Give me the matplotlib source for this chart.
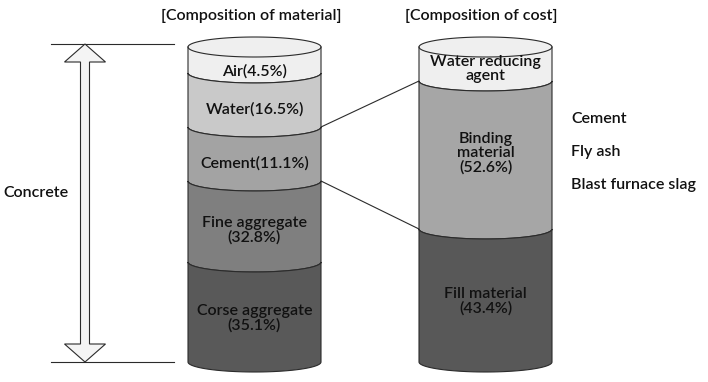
import matplotlib
matplotlib.use("Agg")
import numpy as np
import matplotlib.pyplot as plt
from matplotlib.patches import Polygon

# ---------------- data ----------------
material_names = ["Air", "Water", "Cement", "Fine aggregate", "Corse aggregate"]
material_pct = [4.5, 16.5, 11.1, 32.8, 35.1]
cost_names = ["Water reducing agent", "Binding material", "Fill material"]
cost_pct = [4.0, 52.6, 43.4]
binder_items = ["Cement", "Fly ash", "Blast furnace slag"]
titles = ["[Composition of material]", "[Composition of cost]"]
span_label = "Concrete"

# ---------------- layout (schematic, not to scale; pixel units) ----------------
W, H = 708, 382
B = 10  # ellipse semi-minor axis
mat_x = (188, 321)
cost_x = (419, 552)
mat_edges = [47, 73, 127, 181, 262, 362]
cost_edges = [47, 81, 229, 362]
mat_colors = ["#efefef", "#c9c9c9", "#a3a3a3", "#7f7f7f", "#595959"]
cost_colors = ["#efefef", "#a6a6a6", "#585858"]
mat_nudge = [1, -1, -1, -1, -4]
cost_nudge = [-5, -12, -4]
EDGE = "#2b2b2b"
TXT = "#111111"
FONT = "Lato"
FS = 11.5
WEIGHT = "semibold"

plt.rcParams["font.family"] = [FONT, "DejaVu Sans"]
plt.rcParams["font.weight"] = WEIGHT

fig = plt.figure(figsize=(W / 100, H / 100), dpi=100)
ax = fig.add_axes([0, 0, 1, 1])
ax.set_xlim(0, W)
ax.set_ylim(H, 0)
ax.axis("off")


def arc(x0, x1, y, n=60, upper=False):
    xc, a = (x0 + x1) / 2, (x1 - x0) / 2
    t = np.linspace(np.pi, 0, n)
    xs = xc + a * np.cos(t)
    ys = y - B * np.sin(t) if upper else y + B * np.sin(t)
    return xs, ys


def cylinder(xr, edges, colors, labels, nudges, fs):
    x0, x1 = xr
    for i in range(len(colors)):
        ya, yb = edges[i], edges[i + 1]
        xt, yt = arc(x0, x1, ya, upper=(i == 0))
        xb, yb_ = arc(x0, x1, yb)
        pts = np.vstack([np.column_stack([xt, yt]),
                         np.column_stack([xb[::-1], yb_[::-1]])])
        ax.add_patch(Polygon(pts, closed=True, fc=colors[i], ec=EDGE, lw=0.8, zorder=2))
        ymid = (ya + yb) / 2 + B + nudges[i]
        ax.text((x0 + x1) / 2, ymid, labels[i], ha="center", va="center",
                fontsize=fs, color=TXT, linespacing=1.0, zorder=4)
    # lower arc of the top ellipse
    xs, ys = arc(x0, x1, edges[0])
    ax.plot(xs, ys, color=EDGE, lw=0.8, zorder=3)


mat_labels = [f"{n}({p}%)" if " " not in n else f"{n}\n({p}%)"
              for n, p in zip(material_names, material_pct)]
cost_labels = ["Water reducing\nagent",
               f"Binding\nmaterial\n({cost_pct[1]}%)",
               f"{cost_names[2]}\n({cost_pct[2]}%)"]

cylinder(mat_x, mat_edges, mat_colors, mat_labels, mat_nudge, FS)
cylinder(cost_x, cost_edges, cost_colors, cost_labels, cost_nudge, FS)

# connecting lines (water/cement -> WRA/binding ; cement/fine -> binding/fill)
ax.plot([mat_x[1], cost_x[0]], [mat_edges[2], cost_edges[1]], color=EDGE, lw=0.8, zorder=1)
ax.plot([mat_x[1], cost_x[0]], [mat_edges[3], cost_edges[2]], color=EDGE, lw=0.8, zorder=1)

# titles
ax.text(251, 16, titles[0], ha="center", va="center", fontsize=FS, color=TXT)
ax.text(481, 16, titles[1], ha="center", va="center", fontsize=FS, color=TXT)

# binder items
for yy, s in zip([119, 152, 185], binder_items):
    ax.text(571, yy, s, ha="left", va="center", fontsize=FS, color=TXT)

# concrete span: horizontal lines + double arrow
top, bot = 44, 362
ax.plot([51, 174], [top, top], color=EDGE, lw=0.8)
ax.plot([51, 174], [bot, bot], color=EDGE, lw=0.8)
cx, hw, sw, hl = 85, 20.5, 4.5, 18
arrow = [(cx, top), (cx + hw, top + hl), (cx + sw, top + hl), (cx + sw, bot - hl),
         (cx + hw, bot - hl), (cx, bot), (cx - hw, bot - hl), (cx - sw, bot - hl),
         (cx - sw, top + hl), (cx - hw, top + hl)]
ax.add_patch(Polygon(arrow, closed=True, fc="#f4f4f4", ec=EDGE, lw=0.8, zorder=2))
ax.text(3, 193, span_label, ha="left", va="center", fontsize=FS, color=TXT)

fig.savefig("out.png", dpi=100)
